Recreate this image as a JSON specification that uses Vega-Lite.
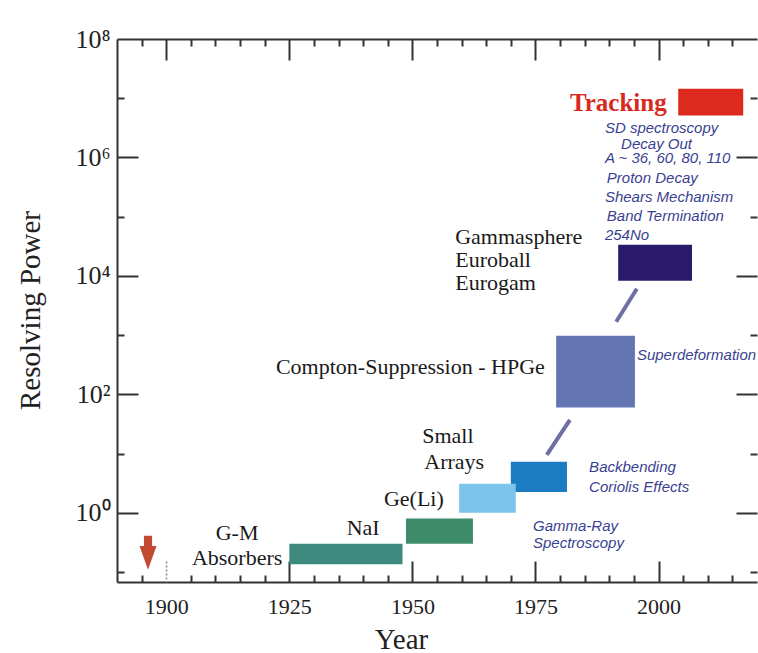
{
  "$schema": "https://vega.github.io/schema/vega-lite/v6.json",
  "width": 640,
  "height": 543,
  "autosize": {"type": "none"},
  "padding": {"left": 117, "top": 39, "right": 1, "bottom": 71},
  "background": "white",
  "config": {
    "view": {"stroke": null},
    "axis": {
      "grid": false,
      "domainColor": "#333333",
      "domainWidth": 2,
      "tickColor": "#333333",
      "tickWidth": 2,
      "labelColor": "#222222",
      "titleColor": "#222222",
      "labelFont": "Liberation Serif",
      "titleFont": "Liberation Serif",
      "titleFontWeight": "normal",
      "labelFlush": false,
      "labelOverlap": false
    }
  },
  "datasets": {
    "bars": [
      {"name": "G-M Absorbers", "start": 1925, "end": 1948, "low": 0.135, "high": 0.3},
      {"name": "NaI", "start": 1948.7, "end": 1962.3, "low": 0.3, "high": 0.8},
      {"name": "Small Arrays", "start": 1970, "end": 1981.4, "low": 2.25, "high": 7.3},
      {"name": "Ge(Li)", "start": 1959.5, "end": 1971, "low": 1.0, "high": 3.1},
      {"name": "Compton-Suppression HPGe", "start": 1979.2, "end": 1995.2, "low": 60, "high": 980},
      {"name": "Gammasphere", "start": 1991.8, "end": 2006.8, "low": 8300, "high": 33700},
      {"name": "Tracking", "start": 2004, "end": 2017.2, "low": 5100000, "high": 14500000}
    ],
    "links": [
      {"from": 1977.3, "to": 1982.0, "low": 9.5, "high": 37.2},
      {"from": 1991.4, "to": 1995.6, "low": 1683, "high": 6080}
    ],
    "labels": [
      {"text": "G-M", "year": 1914.4, "power": 0.46, "kind": "centre"},
      {"text": "Absorbers", "year": 1914.4, "power": 0.174, "kind": "centre"},
      {"text": "NaI", "year": 1940.0, "power": 0.56, "kind": "centre"},
      {"text": "Ge(Li)", "year": 1950.3, "power": 1.72, "kind": "centre"},
      {"text": "Small", "year": 1957.2, "power": 20, "kind": "centre"},
      {"text": "Arrays", "year": 1958.5, "power": 7.3, "kind": "centre"},
      {"text": "Compton-Suppression - HPGe", "year": 1976.9, "power": 293, "kind": "right"},
      {"text": "Gammasphere", "year": 1958.7, "power": 45900, "kind": "left"},
      {"text": "Euroball", "year": 1958.7, "power": 18800, "kind": "left"},
      {"text": "Eurogam", "year": 1958.7, "power": 7680, "kind": "left"}
    ],
    "notes": [
      {"text": "SD spectroscopy", "year": 1989.1, "power": 3190000},
      {"text": "Decay Out", "year": 1992.4, "power": 1710000},
      {"text": "A ~ 36, 60, 80, 110", "year": 1989.1, "power": 993000},
      {"text": "Proton Decay", "year": 1989.5, "power": 456000},
      {"text": "Shears Mechanism", "year": 1989.1, "power": 218000},
      {"text": "Band Termination", "year": 1989.5, "power": 104000},
      {"text": "254No", "year": 1989.1, "power": 49700},
      {"text": "Superdeformation", "year": 1995.6, "power": 467},
      {"text": "Backbending", "year": 1985.9, "power": 5.98},
      {"text": "Coriolis Effects", "year": 1985.9, "power": 2.75},
      {"text": "Gamma-Ray", "year": 1974.5, "power": 0.603},
      {"text": "Spectroscopy", "year": 1974.5, "power": 0.311}
    ],
    "headline": [
      {"text": "Tracking", "year": 1982.0, "power": 8430000}
    ],
    "marker": [
      {"year": 1896.3, "power": 0.211}
    ]
  },
  "resolve": {"axis": {"x": "independent", "y": "independent"}},
  "layer": [
    {
      "data": {"name": "bars"},
      "mark": {"type": "rect"},
      "encoding": {
        "x": {
          "field": "start", "type": "quantitative",
          "scale": {"domain": [1890, 2020], "nice": false, "zero": false},
          "axis": {
            "orient": "bottom", "values": [1900, 1925, 1950, 1975, 2000], "format": "d",
            "ticks": false, "labelFontSize": 22, "labelPadding": 31, "labelBaseline": "alphabetic",
            "title": "Year", "titleFontSize": 29, "titleX": 284, "titleY": 66,
            "titleBaseline": "alphabetic", "titleAlign": "center"
          }
        },
        "x2": {"field": "end"},
        "y": {
          "field": "low", "type": "quantitative",
          "scale": {"type": "log", "domain": [0.068, 100000000], "nice": false},
          "axis": {
            "orient": "left", "values": [1, 100, 10000, 1000000, 100000000],
            "ticks": false, "labelFontSize": 26, "labelPadding": 7, "labelBaseline": "middle",
            "labelExpr": "datum.value >= 1e8 ? '10⁸' : datum.value >= 1e6 ? '10⁶' : datum.value >= 1e4 ? '10⁴' : datum.value >= 100 ? '10²' : '10⁰'",
            "title": "Resolving Power", "titleFontSize": 29, "titleX": -87, "titleY": 271,
            "titleAngle": -90, "titleAlign": "center", "titleBaseline": "middle"
          }
        },
        "y2": {"field": "high"},
        "color": {
          "field": "name", "type": "nominal", "legend": null,
          "scale": {
            "domain": ["G-M Absorbers", "NaI", "Ge(Li)", "Small Arrays", "Compton-Suppression HPGe", "Gammasphere", "Tracking"],
            "range": ["#3f8a7f", "#3f8c6b", "#7cc4ec", "#1c7cc2", "#6476b2", "#2b1a6b", "#dd2a1f"]
          }
        }
      }
    },
    {
      "data": {"name": "links"},
      "mark": {"type": "rule", "strokeWidth": 4, "color": "#6f6fa6"},
      "encoding": {
        "x": {
          "field": "from", "type": "quantitative",
          "scale": {"domain": [1890, 2020], "nice": false, "zero": false},
          "axis": {
            "orient": "bottom", "values": [1925, 1950, 1975, 2000],
            "labels": false, "domain": false, "title": null, "tickSize": 21, "offset": -21
          }
        },
        "x2": {"field": "to"},
        "y": {
          "field": "low", "type": "quantitative",
          "scale": {"type": "log", "domain": [0.068, 100000000], "nice": false},
          "axis": {
            "orient": "left", "values": [1, 100, 10000, 1000000],
            "labels": false, "domain": false, "title": null, "tickSize": -21
          }
        },
        "y2": {"field": "high"}
      }
    },
    {
      "data": {"name": "labels"},
      "transform": [{"filter": "datum.kind === 'centre'"}],
      "mark": {"type": "text", "font": "Liberation Serif", "fontSize": 22, "color": "#1a1a1a", "align": "center", "baseline": "middle"},
      "encoding": {
        "x": {
          "field": "year", "type": "quantitative",
          "scale": {"domain": [1890, 2020], "nice": false, "zero": false},
          "axis": {
            "orient": "bottom",
            "values": [1895, 1905, 1910, 1915, 1920, 1930, 1935, 1940, 1945, 1955, 1960, 1965, 1970, 1980, 1985, 1990, 1995, 2005, 2010, 2015],
            "labels": false, "domain": false, "title": null, "tickSize": 7, "offset": -7
          }
        },
        "y": {
          "field": "power", "type": "quantitative",
          "scale": {"type": "log", "domain": [0.068, 100000000], "nice": false},
          "axis": {
            "orient": "left", "values": [0.1, 10, 1000, 100000, 10000000],
            "labels": false, "domain": false, "title": null, "tickSize": -7
          }
        },
        "text": {"field": "text"}
      }
    },
    {
      "data": {"name": "labels"},
      "transform": [{"filter": "datum.kind === 'left'"}],
      "mark": {"type": "text", "font": "Liberation Serif", "fontSize": 22, "color": "#1a1a1a", "align": "left", "baseline": "middle"},
      "encoding": {
        "x": {
          "field": "year", "type": "quantitative",
          "scale": {"domain": [1890, 2020], "nice": false, "zero": false},
          "axis": {
            "orient": "top", "values": [1900, 1925, 1950, 1975, 2000],
            "labels": false, "domain": true, "title": null, "tickSize": -21
          }
        },
        "y": {
          "field": "power", "type": "quantitative",
          "scale": {"type": "log", "domain": [0.068, 100000000], "nice": false},
          "axis": {
            "orient": "right", "values": [1, 100, 10000, 1000000],
            "labels": false, "domain": false, "title": null, "tickSize": -21
          }
        },
        "text": {"field": "text"}
      }
    },
    {
      "data": {"name": "notes"},
      "mark": {"type": "text", "font": "Liberation Sans", "fontSize": 15, "fontStyle": "italic", "color": "#3a3f91", "align": "left", "baseline": "middle"},
      "encoding": {
        "x": {
          "field": "year", "type": "quantitative",
          "scale": {"domain": [1890, 2020], "nice": false, "zero": false},
          "axis": {
            "orient": "top",
            "values": [1895, 1905, 1910, 1915, 1920, 1930, 1935, 1940, 1945, 1955, 1960, 1965, 1970, 1980, 1985, 1990, 1995, 2005, 2010, 2015],
            "labels": false, "domain": false, "title": null, "tickSize": -7
          }
        },
        "y": {
          "field": "power", "type": "quantitative",
          "scale": {"type": "log", "domain": [0.068, 100000000], "nice": false},
          "axis": {
            "orient": "right", "values": [0.1, 10, 1000, 100000, 10000000],
            "labels": false, "domain": false, "title": null, "tickSize": -7
          }
        },
        "text": {"field": "text"}
      }
    },
    {
      "data": {"name": "labels"},
      "transform": [{"filter": "datum.kind === 'right'"}],
      "mark": {"type": "text", "font": "Liberation Serif", "fontSize": 22, "color": "#1a1a1a", "align": "right", "baseline": "middle"},
      "encoding": {
        "x": {"field": "year", "type": "quantitative", "scale": {"domain": [1890, 2020], "nice": false, "zero": false}, "axis": null},
        "y": {"field": "power", "type": "quantitative", "scale": {"type": "log", "domain": [0.068, 100000000], "nice": false}, "axis": null},
        "text": {"field": "text"}
      }
    },
    {
      "data": {"name": "headline"},
      "mark": {"type": "text", "font": "Liberation Serif", "fontSize": 25, "fontWeight": "bold", "color": "#d9291e", "align": "left", "baseline": "middle"},
      "encoding": {
        "x": {"field": "year", "type": "quantitative", "scale": {"domain": [1890, 2020], "nice": false, "zero": false}, "axis": null},
        "y": {"field": "power", "type": "quantitative", "scale": {"type": "log", "domain": [0.068, 100000000], "nice": false}, "axis": null},
        "text": {"field": "text"}
      }
    },
    {
      "data": {"name": "marker"},
      "mark": {
        "type": "point", "filled": true, "opacity": 1, "color": "#c24a32", "size": 1156,
        "shape": "M-0.24,-1L0.24,-1L0.24,-0.4L0.5,-0.4L0,1L-0.5,-0.4L-0.24,-0.4Z"
      },
      "encoding": {
        "x": {
          "field": "year", "type": "quantitative",
          "scale": {"domain": [1890, 2020], "nice": false, "zero": false},
          "axis": {
            "orient": "bottom", "values": [1900],
            "labels": false, "domain": false, "title": null, "tickSize": 21, "offset": -21,
            "tickColor": "#8a8a8a", "tickWidth": 1.5, "tickDash": [2, 2]
          }
        },
        "y": {"field": "power", "type": "quantitative", "scale": {"type": "log", "domain": [0.068, 100000000], "nice": false}, "axis": null}
      }
    }
  ]
}
